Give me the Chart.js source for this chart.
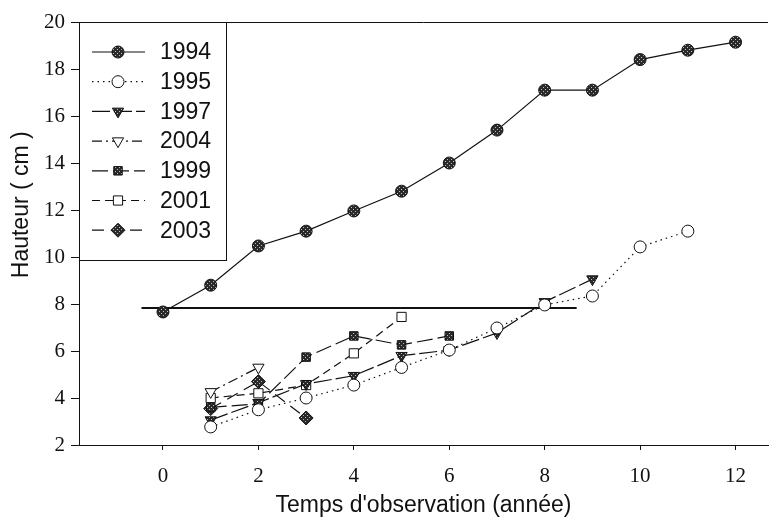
<!DOCTYPE html>
<html>
<head>
<meta charset="utf-8">
<script src="https://cdn.jsdelivr.net/npm/chart.js@4/dist/chart.umd.min.js"></script>
<style>
  html, body { margin: 0; padding: 0; background: #fff; }
  #wrap { width: 776px; height: 523px; }
</style>
</head>
<body>
<div id="wrap"><canvas id="chart" width="776" height="523"></canvas></div>
<script>
// values
const t1994 = [0, 1, 2, 3, 4, 5, 6, 7, 8, 9, 10, 11, 12];
const h1994 = [7.66, 8.8, 10.47, 11.1, 11.96, 12.8, 14.0, 15.4, 17.1, 17.1, 18.4, 18.8, 19.14];
const t1995 = [1, 2, 3, 4, 5, 6, 7, 8, 9, 10, 11];
const h1995 = [2.77, 3.5, 4.0, 4.55, 5.3, 6.04, 6.98, 7.96, 8.34, 10.43, 11.1];
const t1997 = [1, 2, 3, 4, 5, 6, 7, 8, 9];
const h1997 = [3.06, 3.8, 4.6, 4.95, 5.8, 6.04, 6.77, 8.09, 9.06];
const t2004 = [1, 2];
const h2004 = [4.26, 5.3];
const t1999 = [1, 2, 3, 4, 5, 6];
const h1999 = [3.6, 3.75, 5.74, 6.64, 6.26, 6.64];
const t2001 = [1, 2, 3, 4, 5];
const h2001 = [4.0, 4.2, 4.55, 5.9, 7.45];
const t2003 = [1, 2, 3];
const h2003 = [3.55, 4.7, 3.15];
const refT = [-0.45, 8.67];
const refH = [7.83, 7.83];

const xTicks = [0, 2, 4, 6, 8, 10, 12];
const yTicks = [2, 4, 6, 8, 10, 12, 14, 16, 18, 20];

function pts(xs, ys) {
    return xs.map((x, i) => ({ x: x, y: ys[i] }));
}

// speckled dark fill like the scanned markers
function speckle() {
    const c = document.createElement('canvas');
    c.width = 4; c.height = 4;
    const g = c.getContext('2d');
    g.fillStyle = '#2a2a2a';
    g.fillRect(0, 0, 4, 4);
    g.fillStyle = '#bdbdbd';
    g.fillRect(1, 1, 1, 1);
    g.fillRect(3, 3, 1, 1);
    return g.createPattern(c, 'repeat');
}
const dark = speckle();

function series(label, xs, ys, style, fill, dash, rot, radius) {
    return {
        label: label,
        data: pts(xs, ys),
        showLine: true,
        borderColor: '#111',
        borderWidth: 1.2,
        borderDash: dash,
        pointStyle: style,
        pointRotation: rot || 0,
        pointRadius: radius || 6,
        pointBackgroundColor: fill,
        pointBorderColor: '#111',
        pointBorderWidth: 1,
        fill: false
    };
}

const datasets = [
    series('1994', t1994, h1994, 'circle', dark, [], 0, 6),
    series('1995', t1995, h1995, 'circle', '#fff', [1.5, 4], 0, 6),
    series('1997', t1997, h1997, 'triangle', dark, [18, 4], 180, 6.5),
    series('2004', t2004, h2004, 'triangle', '#fff', [10, 4, 2, 4], 180, 6.5),
    series('1999', t1999, h1999, 'rect', dark, [16, 5], 0, 6),
    series('2001', t2001, h2001, 'rect', '#fff', [8, 5], 0, 6.5),
    series('2003', t2003, h2003, 'rectRot', dark, [12, 7], 0, 7),
    {
        label: 'ref',
        data: pts(refT, refH),
        showLine: true,
        borderColor: '#111',
        borderWidth: 2,
        pointRadius: 0,
        fill: false
    }
];

// legend box drawn inside the plot, top-left
const boxLegend = {
    id: 'boxLegend',
    afterDraw(chart) {
        const ctx = chart.ctx;
        const a = chart.chartArea;
        ctx.save();
        ctx.strokeStyle = '#111';
        ctx.lineWidth = 1;
        // top border of the frame
        ctx.beginPath();
        ctx.moveTo(a.left, a.top + 0.5);
        ctx.lineTo(a.right, a.top + 0.5);
        ctx.stroke();

        const left = a.left, top = a.top, w = 147, h = 238;
        ctx.strokeRect(left + 0.5, top + 0.5, w, h);

        ctx.font = '23px "Liberation Sans", Arial, sans-serif';
        ctx.textBaseline = 'middle';
        ctx.fillStyle = '#111';
        for (let i = 0; i < 7; i++) {
            const ds = chart.data.datasets[i];
            const y = top + 30 + i * 29.7;
            ctx.setLineDash(ds.borderDash || []);
            ctx.lineWidth = ds.borderWidth;
            ctx.beginPath();
            ctx.moveTo(left + 13, y);
            ctx.lineTo(left + 66, y);
            ctx.stroke();
            ctx.setLineDash([]);
            ctx.fillStyle = ds.pointBackgroundColor;
            ctx.lineWidth = 1;
            Chart.helpers.drawPoint(ctx, {
                pointStyle: ds.pointStyle,
                rotation: ds.pointRotation,
                radius: ds.pointRadius,
                borderWidth: 1
            }, left + 39, y);
            ctx.fillStyle = '#111';
            ctx.fillText(ds.label, left + 81, y + 1);
        }
        ctx.restore();
    }
};

const ctx = document.getElementById('chart').getContext('2d');
new Chart(ctx, {
    type: 'scatter',
    data: { datasets: datasets },
    options: {
        responsive: false,
        animation: false,
        layout: { padding: { top: 22, right: 0, left: 0, bottom: 0 } },
        plugins: {
            legend: { display: false },
            tooltip: { enabled: false }
        },
        scales: {
            x: {
                type: 'linear',
                min: -1.76,
                max: 12.68,
                afterBuildTicks: (axis) => { axis.ticks = xTicks.map(v => ({ value: v })); },
                afterFit: (scale) => { scale.height = 78; },
                border: { display: true, color: '#111', width: 1 },
                grid: { display: true, drawOnChartArea: false, drawTicks: true, tickLength: 5, color: '#111' },
                ticks: {
                    color: '#111',
                    padding: 14,
                    font: { family: '"Liberation Serif", "Times New Roman", serif', size: 21 }
                },
                title: {
                    display: true,
                    text: "Temps d'observation (année)",
                    color: '#111',
                    padding: { top: 0, bottom: 4 },
                    font: { family: '"Liberation Sans", Arial, sans-serif', size: 23 }
                }
            },
            y: {
                type: 'linear',
                min: 2,
                max: 20,
                afterBuildTicks: (axis) => { axis.ticks = yTicks.map(v => ({ value: v })); },
                afterFit: (scale) => { scale.width = 79; },
                border: { display: true, color: '#111', width: 1 },
                grid: { display: true, drawOnChartArea: false, drawTicks: true, tickLength: 8, color: '#111' },
                ticks: {
                    color: '#111',
                    padding: 6,
                    font: { family: '"Liberation Serif", "Times New Roman", serif', size: 21 }
                },
                title: {
                    display: true,
                    text: '\u00a0\u00a0\u00a0\u00a0\u00a0\u00a0\u00a0\u00a0\u00a0Hauteur ( cm )',
                    color: '#111',
                    padding: { top: 8, bottom: 0 },
                    font: { family: '"Liberation Sans", Arial, sans-serif', size: 23 }
                }
            }
        }
    },
    plugins: [boxLegend]
});
</script>
</body>
</html>
